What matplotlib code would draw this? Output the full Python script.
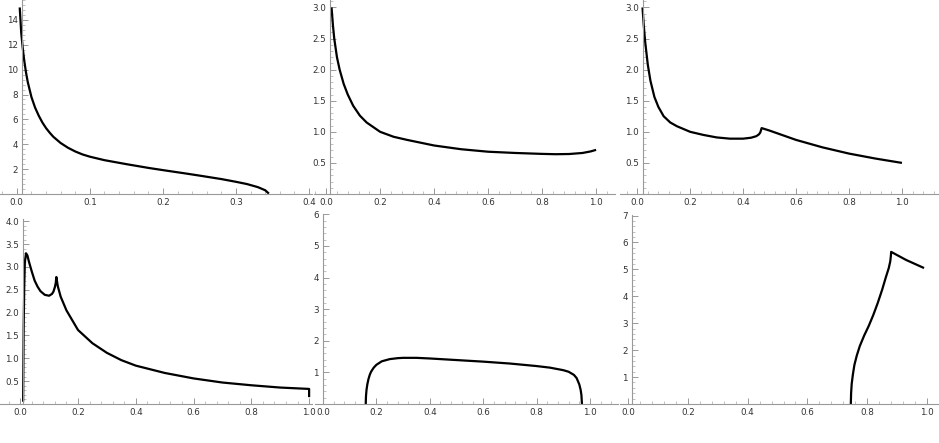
import matplotlib
matplotlib.use("Agg")
import matplotlib.pyplot as plt
from matplotlib.ticker import MultipleLocator

p1_x = [0.004, 0.005, 0.006, 0.008, 0.01, 0.0125, 0.015, 0.0175, 0.02, 0.025, 0.03, 0.035, 0.04, 0.045, 0.05, 0.06, 0.07, 0.08, 0.09, 0.1, 0.12, 0.15, 0.18, 0.2, 0.23, 0.25, 0.28, 0.3, 0.315, 0.33, 0.34, 0.345]
p1_y = [15, 14.0, 13.0, 11.8, 10.8, 9.8, 9.0, 8.4, 7.8, 6.95, 6.3, 5.75, 5.3, 4.93, 4.6, 4.1, 3.72, 3.42, 3.18, 3.0, 2.72, 2.4, 2.1, 1.92, 1.66, 1.48, 1.2, 0.98, 0.8, 0.55, 0.3, 0.03]
p2_x = [0.02, 0.025, 0.03, 0.04, 0.05, 0.065, 0.08, 0.1, 0.125, 0.15, 0.2, 0.25, 0.3, 0.4, 0.5, 0.6, 0.7, 0.8, 0.85, 0.9, 0.95, 0.98, 1.0]
p2_y = [3.0, 2.72, 2.5, 2.2, 2.0, 1.77, 1.6, 1.42, 1.26, 1.15, 1.0, 0.92, 0.87, 0.78, 0.72, 0.68, 0.66, 0.645, 0.64, 0.643, 0.66, 0.685, 0.71]
p3_x = [0.02, 0.025, 0.03, 0.04, 0.05, 0.065, 0.08, 0.1, 0.125, 0.15, 0.2, 0.25, 0.3, 0.35, 0.4, 0.43, 0.45, 0.46, 0.465, 0.47, 0.5, 0.6, 0.7, 0.8, 0.9, 1.0]
p3_y = [3.0, 2.7, 2.45, 2.08, 1.82, 1.56, 1.4, 1.25, 1.15, 1.09, 1.0, 0.95, 0.91, 0.89, 0.89, 0.905, 0.93, 0.96, 0.99, 1.06, 1.02, 0.87, 0.75, 0.65, 0.57, 0.5]
p4_x = [0.01, 0.011, 0.012, 0.014, 0.016, 0.02, 0.025, 0.03, 0.04, 0.05, 0.06, 0.07, 0.085, 0.1, 0.11, 0.115, 0.12, 0.123, 0.125, 0.13, 0.14, 0.16, 0.2, 0.25, 0.3, 0.35, 0.4, 0.5, 0.6, 0.7, 0.8, 0.9, 1.0, 1.0]
p4_y = [0.05, 0.9, 1.7, 2.6, 3.1, 3.3, 3.25, 3.12, 2.9, 2.7, 2.57, 2.47, 2.39, 2.37, 2.41, 2.46, 2.56, 2.65, 2.78, 2.58, 2.35, 2.05, 1.62, 1.33, 1.12, 0.96, 0.84, 0.68, 0.56, 0.47, 0.41, 0.36, 0.33, 0.15]
p5_x = [0.16, 0.161, 0.163, 0.166, 0.17, 0.175, 0.18, 0.19, 0.2, 0.22, 0.25, 0.28, 0.3, 0.35, 0.4, 0.5, 0.6, 0.7, 0.8, 0.85, 0.9, 0.92, 0.94, 0.95, 0.96, 0.965, 0.968, 0.97]
p5_y = [0.0, 0.25, 0.45, 0.62, 0.78, 0.92, 1.02, 1.15, 1.24, 1.35, 1.42, 1.45, 1.46, 1.46, 1.44, 1.39, 1.34, 1.28, 1.2, 1.15, 1.07, 1.02, 0.92, 0.82, 0.62, 0.45, 0.28, 0.0]
p6_x = [0.745, 0.746, 0.748, 0.752, 0.757, 0.765, 0.775, 0.79, 0.805, 0.82, 0.835, 0.85, 0.862, 0.872, 0.877, 0.879, 0.88, 0.93, 0.99]
p6_y = [0.0, 0.4, 0.75, 1.1, 1.45, 1.8, 2.15, 2.55, 2.9, 3.3, 3.75, 4.25, 4.7, 5.05, 5.3, 5.5, 5.65, 5.35, 5.05]

W, H = 939, 443
fig = plt.figure(figsize=(W / 100, H / 100), dpi=100)

panels = [
    (p1_x, p1_y, (0, 0, 312, 194), (-0.023, 0.404), (0, 15.6), 0.007, 0.1, 2, 0.02, 0.4),
    (p2_x, p2_y, (314, 0, 615, 194), (-0.045, 1.07), (0, 3.12), 0.015, 0.2, 0.5, 0.04, 0.1),
    (p3_x, p3_y, (620, 0, 939, 194), (-0.065, 1.14), (0, 3.12), 0.023, 0.2, 0.5, 0.04, 0.1),
    (p4_x, p4_y, (0, 219, 312, 404), (-0.07, 1.01), (0, 4.05), 0.01, 0.2, 0.5, 0.04, 0.1),
    (p5_x, p5_y, (315, 214, 618, 404), (-0.03, 1.105), (0, 6.01), 0.0, 0.2, 1, 0.04, 0.2),
    (p6_x, p6_y, (620, 215, 939, 404), (-0.027, 1.04), (0, 7.02), 0.013, 0.2, 1, 0.04, 0.2),
]

for xs, ys, (l, t, r, b), xl, yl, ypos, mx, my, nx, ny in panels:
    ax = fig.add_axes([l / W, 1 - b / H, (r - l) / W, (b - t) / H])
    ax.plot(xs, ys, color="black", lw=1.6, solid_capstyle="butt", solid_joinstyle="round")
    ax.set_xlim(*xl)
    ax.set_ylim(*yl)
    for s in ("top", "right"):
        ax.spines[s].set_visible(False)
    ax.spines["left"].set_position(("data", ypos))
    ax.spines["bottom"].set_position(("data", 0))
    for s in ("left", "bottom"):
        ax.spines[s].set_color("#999999")
        ax.spines[s].set_linewidth(0.8)
    ax.xaxis.set_major_locator(MultipleLocator(mx))
    ax.yaxis.set_major_locator(MultipleLocator(my))
    ax.xaxis.set_minor_locator(MultipleLocator(nx))
    ax.yaxis.set_minor_locator(MultipleLocator(ny))
    ax.tick_params(which="major", direction="in", length=4, width=0.7, color="#999999",
                   labelsize=6.3, labelcolor="#333333", pad=3)
    ax.tick_params(which="minor", direction="in", length=2, width=0.5, color="#aaaaaa")
    xt = [v for v in ax.get_xticks() if xl[0] <= v <= xl[1] + 1e-9]
    ax.set_xticks(xt)
    ax.set_xticklabels(["%.1f" % v for v in xt])
    yt = [v for v in ax.get_yticks() if 0 < v <= yl[1] + 1e-9]
    ax.set_yticks(yt)
    ax.set_yticklabels([("%g" % v) if my >= 1 else ("%.1f" % v) for v in yt])
    ax.patch.set_alpha(0)

fig.savefig("out.png", dpi=100)
